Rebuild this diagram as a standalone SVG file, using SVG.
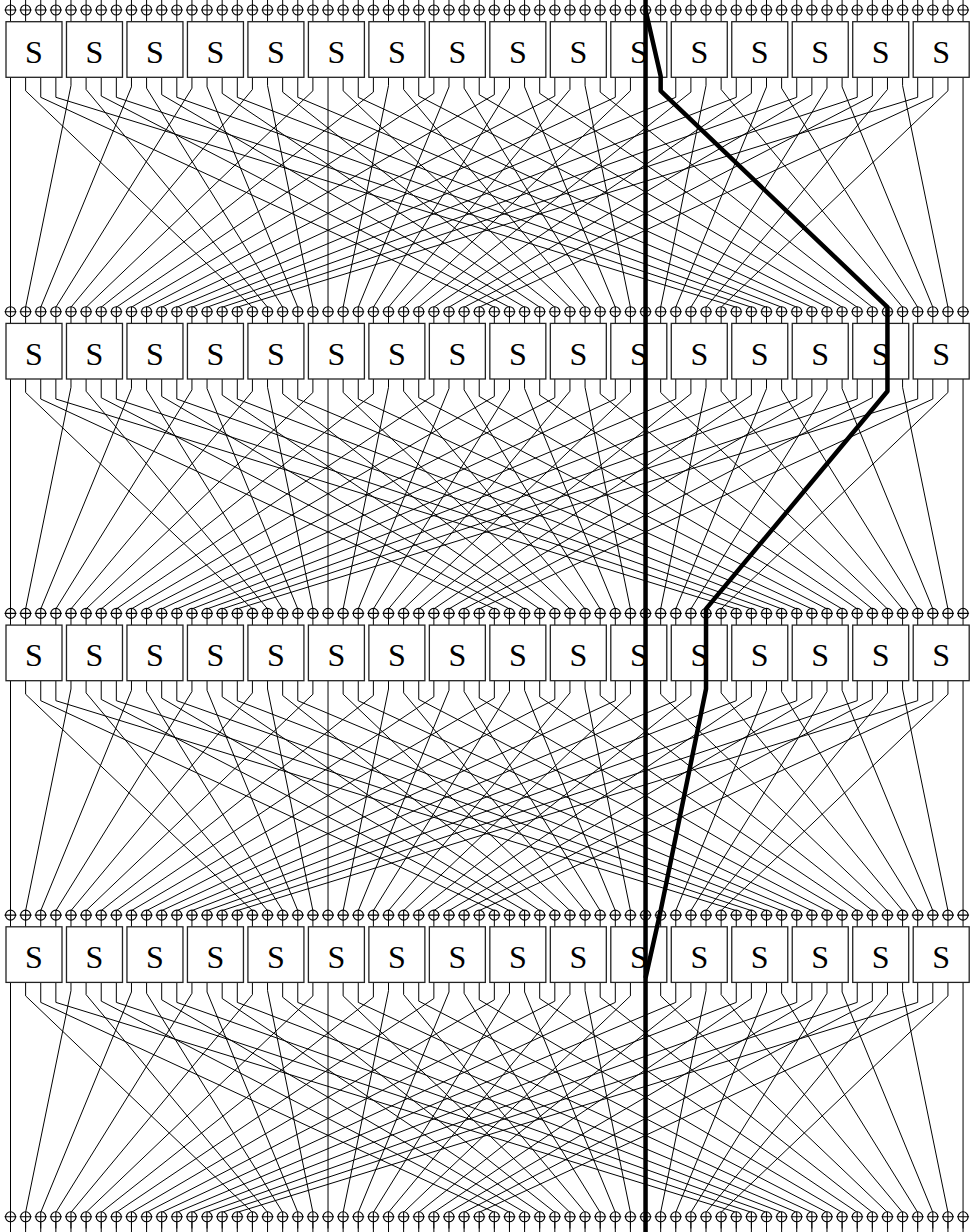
<svg xmlns="http://www.w3.org/2000/svg" width="975" height="1232" viewBox="0 0 975 1232">
<style>
.ln{fill:none;stroke:#000;stroke-width:1}
.bx rect{fill:#fff;stroke:#222;stroke-width:1.3}
.bx text{font-family:"Liberation Serif","Times New Roman",serif;font-size:32px;text-anchor:middle;fill:#000}
.xo circle{fill:#fff;stroke:#000;stroke-width:1.1}
.xo path{fill:none;stroke:#000;stroke-width:1.1}
.thick{fill:none;stroke:#000;stroke-width:4.5;stroke-linejoin:round}
</style>
<defs>
<g id="xo" class="xo"><circle r="5"/><path d="M-6 0H6M0 -5V5"/></g>
<g id="xrow">
<use href="#xo" x="10.5"/><use href="#xo" x="25.62"/><use href="#xo" x="40.74"/><use href="#xo" x="55.86"/>
<use href="#xo" x="70.98"/><use href="#xo" x="86.1"/><use href="#xo" x="101.22"/><use href="#xo" x="116.34"/>
<use href="#xo" x="131.46"/><use href="#xo" x="146.58"/><use href="#xo" x="161.7"/><use href="#xo" x="176.82"/>
<use href="#xo" x="191.94"/><use href="#xo" x="207.06"/><use href="#xo" x="222.18"/><use href="#xo" x="237.3"/>
<use href="#xo" x="252.42"/><use href="#xo" x="267.54"/><use href="#xo" x="282.66"/><use href="#xo" x="297.78"/>
<use href="#xo" x="312.9"/><use href="#xo" x="328.02"/><use href="#xo" x="343.14"/><use href="#xo" x="358.26"/>
<use href="#xo" x="373.38"/><use href="#xo" x="388.5"/><use href="#xo" x="403.62"/><use href="#xo" x="418.74"/>
<use href="#xo" x="433.86"/><use href="#xo" x="448.98"/><use href="#xo" x="464.1"/><use href="#xo" x="479.22"/>
<use href="#xo" x="494.34"/><use href="#xo" x="509.46"/><use href="#xo" x="524.58"/><use href="#xo" x="539.7"/>
<use href="#xo" x="554.82"/><use href="#xo" x="569.94"/><use href="#xo" x="585.06"/><use href="#xo" x="600.18"/>
<use href="#xo" x="615.3"/><use href="#xo" x="630.42"/><use href="#xo" x="645.54"/><use href="#xo" x="660.66"/>
<use href="#xo" x="675.78"/><use href="#xo" x="690.9"/><use href="#xo" x="706.02"/><use href="#xo" x="721.14"/>
<use href="#xo" x="736.26"/><use href="#xo" x="751.38"/><use href="#xo" x="766.5"/><use href="#xo" x="781.62"/>
<use href="#xo" x="796.74"/><use href="#xo" x="811.86"/><use href="#xo" x="826.98"/><use href="#xo" x="842.1"/>
<use href="#xo" x="857.22"/><use href="#xo" x="872.34"/><use href="#xo" x="887.46"/><use href="#xo" x="902.58"/>
<use href="#xo" x="917.7"/><use href="#xo" x="932.82"/><use href="#xo" x="947.94"/><use href="#xo" x="963.06"/>
</g>
<path id="topv" class="ln" d="M10.5 0v21.7M25.62 0v21.7M40.74 0v21.7M55.86 0v21.7M70.98 0v21.7M86.1 0v21.7M101.22 0v21.7M116.34 0v21.7M131.46 0v21.7M146.58 0v21.7M161.7 0v21.7M176.82 0v21.7M191.94 0v21.7M207.06 0v21.7M222.18 0v21.7M237.3 0v21.7M252.42 0v21.7M267.54 0v21.7M282.66 0v21.7M297.78 0v21.7M312.9 0v21.7M328.02 0v21.7M343.14 0v21.7M358.26 0v21.7M373.38 0v21.7M388.5 0v21.7M403.62 0v21.7M418.74 0v21.7M433.86 0v21.7M448.98 0v21.7M464.1 0v21.7M479.22 0v21.7M494.34 0v21.7M509.46 0v21.7M524.58 0v21.7M539.7 0v21.7M554.82 0v21.7M569.94 0v21.7M585.06 0v21.7M600.18 0v21.7M615.3 0v21.7M630.42 0v21.7M645.54 0v21.7M660.66 0v21.7M675.78 0v21.7M690.9 0v21.7M706.02 0v21.7M721.14 0v21.7M736.26 0v21.7M751.38 0v21.7M766.5 0v21.7M781.62 0v21.7M796.74 0v21.7M811.86 0v21.7M826.98 0v21.7M842.1 0v21.7M857.22 0v21.7M872.34 0v21.7M887.46 0v21.7M902.58 0v21.7M917.7 0v21.7M932.82 0v21.7M947.94 0v21.7M963.06 0v21.7"/>
<g id="perm" class="ln">
<path d="M10.5 77.3V323.4"/>
<path d="M25.62 77.3V90.8L252.42 307.2V323.4"/>
<path d="M40.74 77.3V97.3L494.34 307.2V323.4"/>
<path d="M55.86 77.3V97.3L736.26 307.2V323.4"/>
<path d="M70.98 77.3V85.6L25.62 307.2V323.4"/>
<path d="M86.1 77.3V89.5L267.54 307.2V323.4"/>
<path d="M101.22 77.3V96L509.46 307.2V323.4"/>
<path d="M116.34 77.3V97.3L751.38 307.2V323.4"/>
<path d="M131.46 77.3V86.9L40.74 307.2V323.4"/>
<path d="M146.58 77.3V88.2L282.66 307.2V323.4"/>
<path d="M161.7 77.3V94.7L524.58 307.2V323.4"/>
<path d="M176.82 77.3V97.3L766.5 307.2V323.4"/>
<path d="M191.94 77.3V88.2L55.86 307.2V323.4"/>
<path d="M207.06 77.3V86.9L297.78 307.2V323.4"/>
<path d="M222.18 77.3V93.4L539.7 307.2V323.4"/>
<path d="M237.3 77.3V97.3L781.62 307.2V323.4"/>
<path d="M252.42 77.3V89.5L70.98 307.2V323.4"/>
<path d="M267.54 77.3V85.6L312.9 307.2V323.4"/>
<path d="M282.66 77.3V92.1L554.82 307.2V323.4"/>
<path d="M297.78 77.3V97.3L796.74 307.2V323.4"/>
<path d="M312.9 77.3V90.8L86.1 307.2V323.4"/>
<path d="M328.02 77.3V323.4"/>
<path d="M343.14 77.3V90.8L569.94 307.2V323.4"/>
<path d="M358.26 77.3V97.3L811.86 307.2V323.4"/>
<path d="M373.38 77.3V92.1L101.22 307.2V323.4"/>
<path d="M388.5 77.3V85.6L343.14 307.2V323.4"/>
<path d="M403.62 77.3V89.5L585.06 307.2V323.4"/>
<path d="M418.74 77.3V96L826.98 307.2V323.4"/>
<path d="M433.86 77.3V93.4L116.34 307.2V323.4"/>
<path d="M448.98 77.3V86.9L358.26 307.2V323.4"/>
<path d="M464.1 77.3V88.2L600.18 307.2V323.4"/>
<path d="M479.22 77.3V94.7L842.1 307.2V323.4"/>
<path d="M494.34 77.3V94.7L131.46 307.2V323.4"/>
<path d="M509.46 77.3V88.2L373.38 307.2V323.4"/>
<path d="M524.58 77.3V86.9L615.3 307.2V323.4"/>
<path d="M539.7 77.3V93.4L857.22 307.2V323.4"/>
<path d="M554.82 77.3V96L146.58 307.2V323.4"/>
<path d="M569.94 77.3V89.5L388.5 307.2V323.4"/>
<path d="M585.06 77.3V85.6L630.42 307.2V323.4"/>
<path d="M600.18 77.3V92.1L872.34 307.2V323.4"/>
<path d="M615.3 77.3V97.3L161.7 307.2V323.4"/>
<path d="M630.42 77.3V90.8L403.62 307.2V323.4"/>
<path d="M645.54 77.3V323.4"/>
<path d="M660.66 77.3V90.8L887.46 307.2V323.4"/>
<path d="M675.78 77.3V97.3L176.82 307.2V323.4"/>
<path d="M690.9 77.3V92.1L418.74 307.2V323.4"/>
<path d="M706.02 77.3V85.6L660.66 307.2V323.4"/>
<path d="M721.14 77.3V89.5L902.58 307.2V323.4"/>
<path d="M736.26 77.3V97.3L191.94 307.2V323.4"/>
<path d="M751.38 77.3V93.4L433.86 307.2V323.4"/>
<path d="M766.5 77.3V86.9L675.78 307.2V323.4"/>
<path d="M781.62 77.3V88.2L917.7 307.2V323.4"/>
<path d="M796.74 77.3V97.3L207.06 307.2V323.4"/>
<path d="M811.86 77.3V94.7L448.98 307.2V323.4"/>
<path d="M826.98 77.3V88.2L690.9 307.2V323.4"/>
<path d="M842.1 77.3V86.9L932.82 307.2V323.4"/>
<path d="M857.22 77.3V97.3L222.18 307.2V323.4"/>
<path d="M872.34 77.3V96L464.1 307.2V323.4"/>
<path d="M887.46 77.3V89.5L706.02 307.2V323.4"/>
<path d="M902.58 77.3V85.6L947.94 307.2V323.4"/>
<path d="M917.7 77.3V97.3L237.3 307.2V323.4"/>
<path d="M932.82 77.3V97.3L479.22 307.2V323.4"/>
<path d="M947.94 77.3V90.8L721.14 307.2V323.4"/>
<path d="M963.06 77.3V323.4"/>
</g>
</defs>
<g id="connectors">
<use href="#topv"/>
<use href="#perm"/>
<use href="#perm" y="301.7"/>
<use href="#perm" y="603.4"/>
<use href="#perm" y="905.1"/>
<use href="#topv" y="1216.8"/>
</g>
<g id="round1" class="bx">
<g id="s1_0"><rect x="6" y="21.7" width="56" height="55.6"/><text x="34" y="62.8">S</text></g>
<g id="s1_1"><rect x="66.48" y="21.7" width="56" height="55.6"/><text x="94.48" y="62.8">S</text></g>
<g id="s1_2"><rect x="126.96" y="21.7" width="56" height="55.6"/><text x="154.96" y="62.8">S</text></g>
<g id="s1_3"><rect x="187.44" y="21.7" width="56" height="55.6"/><text x="215.44" y="62.8">S</text></g>
<g id="s1_4"><rect x="247.92" y="21.7" width="56" height="55.6"/><text x="275.92" y="62.8">S</text></g>
<g id="s1_5"><rect x="308.4" y="21.7" width="56" height="55.6"/><text x="336.4" y="62.8">S</text></g>
<g id="s1_6"><rect x="368.88" y="21.7" width="56" height="55.6"/><text x="396.88" y="62.8">S</text></g>
<g id="s1_7"><rect x="429.36" y="21.7" width="56" height="55.6"/><text x="457.36" y="62.8">S</text></g>
<g id="s1_8"><rect x="489.84" y="21.7" width="56" height="55.6"/><text x="517.84" y="62.8">S</text></g>
<g id="s1_9"><rect x="550.32" y="21.7" width="56" height="55.6"/><text x="578.32" y="62.8">S</text></g>
<g id="s1_10"><rect x="610.8" y="21.7" width="56" height="55.6"/><text x="638.8" y="62.8">S</text></g>
<g id="s1_11"><rect x="671.28" y="21.7" width="56" height="55.6"/><text x="699.28" y="62.8">S</text></g>
<g id="s1_12"><rect x="731.76" y="21.7" width="56" height="55.6"/><text x="759.76" y="62.8">S</text></g>
<g id="s1_13"><rect x="792.24" y="21.7" width="56" height="55.6"/><text x="820.24" y="62.8">S</text></g>
<g id="s1_14"><rect x="852.72" y="21.7" width="56" height="55.6"/><text x="880.72" y="62.8">S</text></g>
<g id="s1_15"><rect x="913.2" y="21.7" width="56" height="55.6"/><text x="941.2" y="62.8">S</text></g>
</g>
<g id="round2" class="bx">
<g id="s2_0"><rect x="6" y="323.4" width="56" height="55.6"/><text x="34" y="364.5">S</text></g>
<g id="s2_1"><rect x="66.48" y="323.4" width="56" height="55.6"/><text x="94.48" y="364.5">S</text></g>
<g id="s2_2"><rect x="126.96" y="323.4" width="56" height="55.6"/><text x="154.96" y="364.5">S</text></g>
<g id="s2_3"><rect x="187.44" y="323.4" width="56" height="55.6"/><text x="215.44" y="364.5">S</text></g>
<g id="s2_4"><rect x="247.92" y="323.4" width="56" height="55.6"/><text x="275.92" y="364.5">S</text></g>
<g id="s2_5"><rect x="308.4" y="323.4" width="56" height="55.6"/><text x="336.4" y="364.5">S</text></g>
<g id="s2_6"><rect x="368.88" y="323.4" width="56" height="55.6"/><text x="396.88" y="364.5">S</text></g>
<g id="s2_7"><rect x="429.36" y="323.4" width="56" height="55.6"/><text x="457.36" y="364.5">S</text></g>
<g id="s2_8"><rect x="489.84" y="323.4" width="56" height="55.6"/><text x="517.84" y="364.5">S</text></g>
<g id="s2_9"><rect x="550.32" y="323.4" width="56" height="55.6"/><text x="578.32" y="364.5">S</text></g>
<g id="s2_10"><rect x="610.8" y="323.4" width="56" height="55.6"/><text x="638.8" y="364.5">S</text></g>
<g id="s2_11"><rect x="671.28" y="323.4" width="56" height="55.6"/><text x="699.28" y="364.5">S</text></g>
<g id="s2_12"><rect x="731.76" y="323.4" width="56" height="55.6"/><text x="759.76" y="364.5">S</text></g>
<g id="s2_13"><rect x="792.24" y="323.4" width="56" height="55.6"/><text x="820.24" y="364.5">S</text></g>
<g id="s2_14"><rect x="852.72" y="323.4" width="56" height="55.6"/><text x="880.72" y="364.5">S</text></g>
<g id="s2_15"><rect x="913.2" y="323.4" width="56" height="55.6"/><text x="941.2" y="364.5">S</text></g>
</g>
<g id="round3" class="bx">
<g id="s3_0"><rect x="6" y="625.1" width="56" height="55.6"/><text x="34" y="666.2">S</text></g>
<g id="s3_1"><rect x="66.48" y="625.1" width="56" height="55.6"/><text x="94.48" y="666.2">S</text></g>
<g id="s3_2"><rect x="126.96" y="625.1" width="56" height="55.6"/><text x="154.96" y="666.2">S</text></g>
<g id="s3_3"><rect x="187.44" y="625.1" width="56" height="55.6"/><text x="215.44" y="666.2">S</text></g>
<g id="s3_4"><rect x="247.92" y="625.1" width="56" height="55.6"/><text x="275.92" y="666.2">S</text></g>
<g id="s3_5"><rect x="308.4" y="625.1" width="56" height="55.6"/><text x="336.4" y="666.2">S</text></g>
<g id="s3_6"><rect x="368.88" y="625.1" width="56" height="55.6"/><text x="396.88" y="666.2">S</text></g>
<g id="s3_7"><rect x="429.36" y="625.1" width="56" height="55.6"/><text x="457.36" y="666.2">S</text></g>
<g id="s3_8"><rect x="489.84" y="625.1" width="56" height="55.6"/><text x="517.84" y="666.2">S</text></g>
<g id="s3_9"><rect x="550.32" y="625.1" width="56" height="55.6"/><text x="578.32" y="666.2">S</text></g>
<g id="s3_10"><rect x="610.8" y="625.1" width="56" height="55.6"/><text x="638.8" y="666.2">S</text></g>
<g id="s3_11"><rect x="671.28" y="625.1" width="56" height="55.6"/><text x="699.28" y="666.2">S</text></g>
<g id="s3_12"><rect x="731.76" y="625.1" width="56" height="55.6"/><text x="759.76" y="666.2">S</text></g>
<g id="s3_13"><rect x="792.24" y="625.1" width="56" height="55.6"/><text x="820.24" y="666.2">S</text></g>
<g id="s3_14"><rect x="852.72" y="625.1" width="56" height="55.6"/><text x="880.72" y="666.2">S</text></g>
<g id="s3_15"><rect x="913.2" y="625.1" width="56" height="55.6"/><text x="941.2" y="666.2">S</text></g>
</g>
<g id="round4" class="bx">
<g id="s4_0"><rect x="6" y="926.8" width="56" height="55.6"/><text x="34" y="967.9">S</text></g>
<g id="s4_1"><rect x="66.48" y="926.8" width="56" height="55.6"/><text x="94.48" y="967.9">S</text></g>
<g id="s4_2"><rect x="126.96" y="926.8" width="56" height="55.6"/><text x="154.96" y="967.9">S</text></g>
<g id="s4_3"><rect x="187.44" y="926.8" width="56" height="55.6"/><text x="215.44" y="967.9">S</text></g>
<g id="s4_4"><rect x="247.92" y="926.8" width="56" height="55.6"/><text x="275.92" y="967.9">S</text></g>
<g id="s4_5"><rect x="308.4" y="926.8" width="56" height="55.6"/><text x="336.4" y="967.9">S</text></g>
<g id="s4_6"><rect x="368.88" y="926.8" width="56" height="55.6"/><text x="396.88" y="967.9">S</text></g>
<g id="s4_7"><rect x="429.36" y="926.8" width="56" height="55.6"/><text x="457.36" y="967.9">S</text></g>
<g id="s4_8"><rect x="489.84" y="926.8" width="56" height="55.6"/><text x="517.84" y="967.9">S</text></g>
<g id="s4_9"><rect x="550.32" y="926.8" width="56" height="55.6"/><text x="578.32" y="967.9">S</text></g>
<g id="s4_10"><rect x="610.8" y="926.8" width="56" height="55.6"/><text x="638.8" y="967.9">S</text></g>
<g id="s4_11"><rect x="671.28" y="926.8" width="56" height="55.6"/><text x="699.28" y="967.9">S</text></g>
<g id="s4_12"><rect x="731.76" y="926.8" width="56" height="55.6"/><text x="759.76" y="967.9">S</text></g>
<g id="s4_13"><rect x="792.24" y="926.8" width="56" height="55.6"/><text x="820.24" y="967.9">S</text></g>
<g id="s4_14"><rect x="852.72" y="926.8" width="56" height="55.6"/><text x="880.72" y="967.9">S</text></g>
<g id="s4_15"><rect x="913.2" y="926.8" width="56" height="55.6"/><text x="941.2" y="967.9">S</text></g>
</g>
<g id="key-xors">
<use href="#xrow" y="10"/>
<use href="#xrow" y="311.7"/>
<use href="#xrow" y="613.4"/>
<use href="#xrow" y="915.1"/>
<use href="#xrow" y="1216.8"/>
</g>
<g id="trails" class="thick">
<path d="M645.54 0V1232"/>
<path d="M645.54 10L660.66 76V90.8L887.46 307.2V391.2L706.02 608.9V689L660.66 910.6L645.54 978"/>
</g>
</svg>
